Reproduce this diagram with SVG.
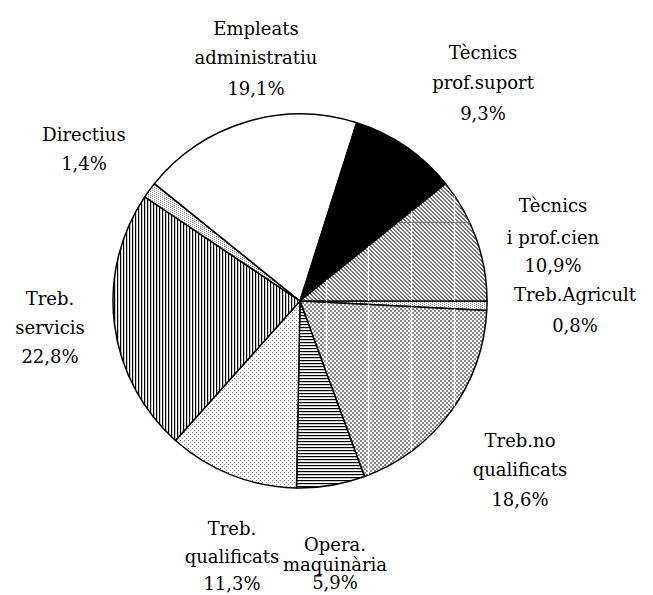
<svg xmlns="http://www.w3.org/2000/svg" width="653" height="595" viewBox="0 0 653 595">
<style>
text{font-family:"DejaVu Serif",serif;font-size:18px;fill:#000;text-anchor:middle}
.s{stroke:#000;stroke-width:1.5;stroke-linejoin:round}
.art{stroke:#fff;stroke-width:1.2}
</style>
<defs>
<pattern id="pDiag" width="4" height="4" patternUnits="userSpaceOnUse">
<rect width="4" height="4" fill="#fff"/>
<rect x="0" y="0" width="2" height="1" fill="#777"/><rect x="1" y="1" width="2" height="1" fill="#777"/><rect x="2" y="2" width="2" height="1" fill="#777"/><rect x="3" y="3" width="1" height="1" fill="#777"/><rect x="0" y="3" width="1" height="1" fill="#777"/>
</pattern>
<pattern id="pCheck" width="4" height="4" patternUnits="userSpaceOnUse">
<rect width="4" height="4" fill="#fff"/>
<rect x="0" y="0" width="2" height="2" fill="#888"/><rect x="2" y="2" width="2" height="2" fill="#888"/>
</pattern>
<pattern id="pHor" width="3" height="3" patternUnits="userSpaceOnUse">
<rect width="3" height="3" fill="#fff"/><rect x="0" y="0" width="3" height="1.2" fill="#000"/>
</pattern>
<pattern id="pVer" width="3" height="3" patternUnits="userSpaceOnUse">
<rect width="3" height="3" fill="#fff"/><rect x="0" y="0" width="1.2" height="3" fill="#000"/>
</pattern>
<pattern id="pDotS" width="4" height="4" patternUnits="userSpaceOnUse">
<rect width="4" height="4" fill="#fff"/><rect x="0" y="0" width="1" height="1" fill="#777"/><rect x="2" y="2" width="1" height="1" fill="#999"/>
</pattern>
<pattern id="pDotD" width="4" height="2" patternUnits="userSpaceOnUse">
<rect width="4" height="2" fill="#fff"/><rect x="0" y="0" width="1" height="1" fill="#888"/><rect x="2" y="1" width="1" height="1" fill="#888"/>
</pattern>
<clipPath id="cCien"><path d="M300,301 L445.58,183.63 A187,187 0 0,1 487,301 Z"/></clipPath>
<clipPath id="cNoq"><path d="M300,301 L486.76,310.40 A187,187 0 0,1 364.44,476.55 Z"/></clipPath>
</defs>
<g id="pie">
<g id="slice-agricult"><path class="s" fill="url(#pDotD)" d="M300,301 L487,301 A187,187 0 0,1 486.76,310.40 Z"/></g>
<g id="slice-noqualificats"><path class="s" fill="url(#pCheck)" d="M300,301 L486.76,310.40 A187,187 0 0,1 364.44,476.55 Z"/>
<g clip-path="url(#cNoq)"><line class="art" x1="326.5" y1="300" x2="326.5" y2="500"/><line class="art" x1="368.5" y1="300" x2="368.5" y2="500"/><line class="art" x1="411.5" y1="300" x2="411.5" y2="500"/><line class="art" x1="454.5" y1="300" x2="454.5" y2="500"/></g></g>
<g id="slice-opera"><path class="s" fill="url(#pHor)" d="M300,301 L364.44,476.55 A187,187 0 0,1 296.48,487.97 Z"/></g>
<g id="slice-qualificats"><path class="s" fill="url(#pDotS)" d="M300,301 L296.48,487.97 A187,187 0 0,1 175.48,440.51 Z"/></g>
<g id="slice-servicis"><path class="s" fill="url(#pVer)" d="M300,301 L175.48,440.51 A187,187 0 0,1 144.70,196.83 Z"/></g>
<g id="slice-directius"><path class="s" fill="url(#pDotD)" d="M300,301 L144.70,196.83 A187,187 0 0,1 154.42,183.63 Z"/></g>
<g id="slice-empleats"><path class="s" fill="#fff" d="M300,301 L154.42,183.63 A187,187 0 0,1 356.68,122.80 Z"/></g>
<g id="slice-suport"><path class="s" fill="#000" d="M300,301 L356.68,122.80 A187,187 0 0,1 445.58,183.63 Z"/></g>
<g id="slice-cien"><path class="s" fill="url(#pDiag)" d="M300,301 L445.58,183.63 A187,187 0 0,1 487,301 Z"/>
<g clip-path="url(#cCien)"><line class="art" x1="326.5" y1="180" x2="326.5" y2="302"/><line class="art" x1="368.5" y1="180" x2="368.5" y2="302"/><line class="art" x1="411.5" y1="180" x2="411.5" y2="302"/><line class="art" x1="454.5" y1="180" x2="454.5" y2="302"/><line x1="300" y1="222.5" x2="490" y2="222.5" stroke="#777" stroke-width="1"/></g></g>
</g>
<g id="labels">
<g id="label-empleats"><text x="256" y="35">Empleats</text><text x="256" y="64">administratiu</text><text x="256" y="95">19,1%</text></g>
<g id="label-suport"><text x="483" y="59">Tècnics</text><text x="483" y="89">prof.suport</text><text x="483" y="120">9,3%</text></g>
<g id="label-directius"><text x="84" y="141">Directius</text><text x="84" y="170">1,4%</text></g>
<g id="label-cien"><text x="553" y="212">Tècnics</text><text x="553" y="244">i prof.cien</text><text x="553" y="272">10,9%</text></g>
<g id="label-agricult"><text x="575" y="301">Treb.Agricult</text><text x="575" y="332">0,8%</text></g>
<g id="label-servicis"><text x="50" y="305">Treb.</text><text x="50" y="334">servicis</text><text x="50" y="363">22,8%</text></g>
<g id="label-noqualificats"><text x="520" y="447">Treb.no</text><text x="520" y="476">qualificats</text><text x="520" y="506">18,6%</text></g>
<g id="label-qualificats"><text x="232" y="535">Treb.</text><text x="232" y="563">qualificats</text><text x="232" y="590">11,3%</text></g>
<g id="label-opera"><text x="335" y="551">Opera.</text><text x="335" y="571">maquinària</text><text x="335" y="589">5,9%</text></g>
</g>
</svg>
